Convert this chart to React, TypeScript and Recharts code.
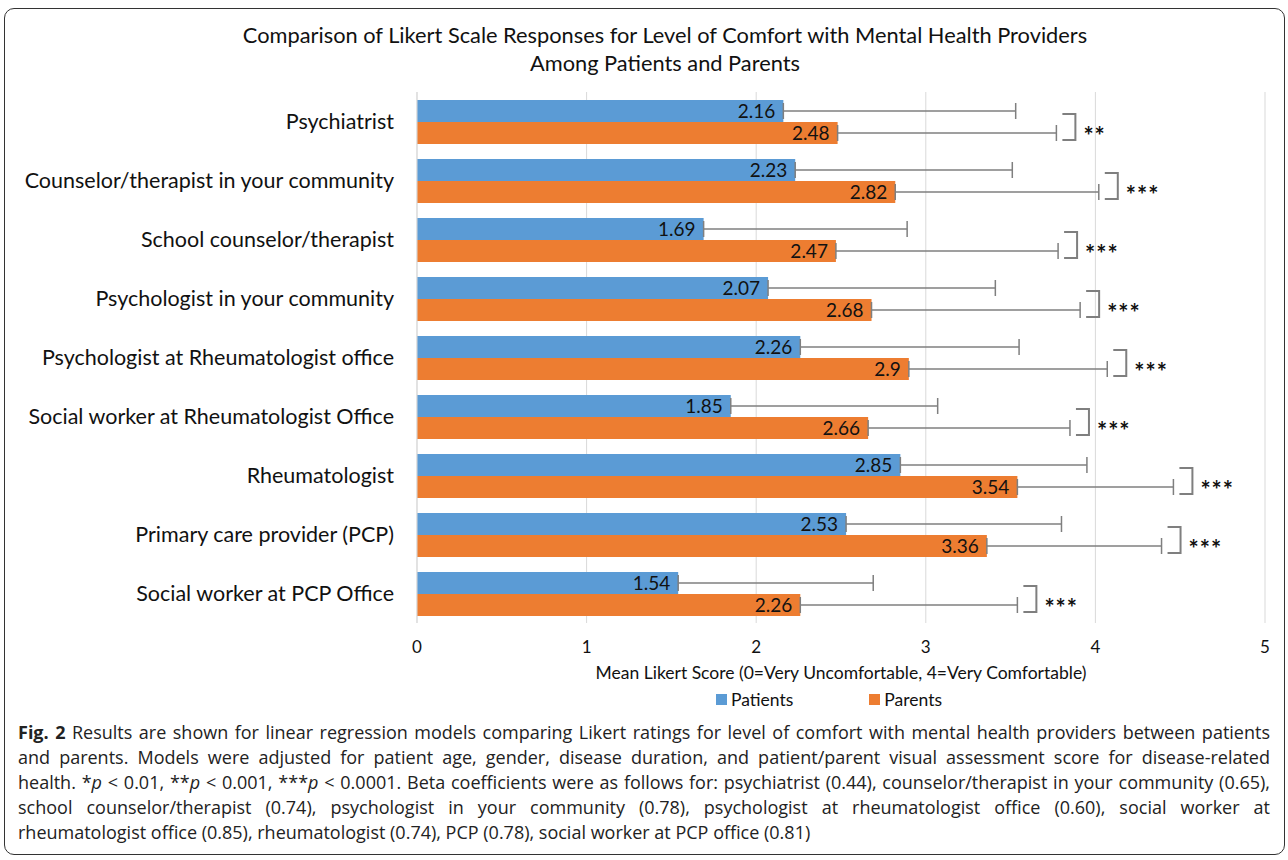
import { BarChart, Bar, XAxis, YAxis, CartesianGrid, ErrorBar, LabelList } from 'recharts';

const providers = [
  'Psychiatrist',
  'Counselor/therapist in your community',
  'School counselor/therapist',
  'Psychologist in your community',
  'Psychologist at Rheumatologist office',
  'Social worker at Rheumatologist Office',
  'Rheumatologist',
  'Primary care provider (PCP)',
  'Social worker at PCP Office',
];
const patients = [2.16, 2.23, 1.69, 2.07, 2.26, 1.85, 2.85, 2.53, 1.54];
const parents = [2.48, 2.82, 2.47, 2.68, 2.9, 2.66, 3.54, 3.36, 2.26];
// only the plus side of the error bar is shown
const patientsErr = [1.37, 1.28, 1.2, 1.34, 1.29, 1.22, 1.1, 1.27, 1.15];
const parentsErr = [1.29, 1.2, 1.31, 1.23, 1.17, 1.19, 0.92, 1.03, 1.28];
const significance = ['**', '***', '***', '***', '***', '***', '***', '***', '***'];
const xTicks = [0, 1, 2, 3, 4, 5];

const BLUE = '#5b9bd5';
const ORANGE = '#ed7d31';
const FONT = 'Lato, "Open Sans", sans-serif';

const rows = providers.map((name, i) => ({
  name,
  patients: patients[i],
  parents: parents[i],
  patientsErr: [0, patientsErr[i]],
  parentsErr: [0, parentsErr[i]],
}));

function Bracket(props: any) {
  const vb = props.viewBox || props;
  const { x, y, width, height } = vb;
  const value = Number(props.value);
  const idx = props.index ?? parents.indexOf(value);
  if (!value || idx < 0) return null;
  const perUnit = width / value;
  const bx = x + (value + parentsErr[idx]) * perUnit + 19;
  const top = y - 8;
  const bottom = y + height - 4;
  return (
    <g>
      <path
        d={`M${bx - 13},${top} H${bx} V${bottom} H${bx - 13}`}
        fill="none"
        stroke="#7f7f7f"
        strokeWidth={2}
      />
      <text
        x={bx + 8}
        y={(top + bottom) / 2 + 8}
        dominantBaseline="central"
        fontSize={24}
        fontWeight="bold"
        letterSpacing={1}
        fill="#111"
        fontFamily={FONT}
      >
        {significance[idx]}
      </text>
    </g>
  );
}

const captionLines = [
  <><b>Fig. 2</b> Results are shown for linear regression models comparing Likert ratings for level of comfort with mental health providers between patients</>,
  <>and parents. Models were adjusted for patient age, gender, disease duration, and patient/parent visual assessment score for disease-related</>,
  <>health. *<i>p</i> &lt; 0.01, **<i>p</i> &lt; 0.001, ***<i>p</i> &lt; 0.0001. Beta coefficients were as follows for: psychiatrist (0.44), counselor/therapist in your community (0.65),</>,
  <>school counselor/therapist (0.74), psychologist in your community (0.78), psychologist at rheumatologist office (0.60), social worker at</>,
  <>rheumatologist office (0.85), rheumatologist (0.74), PCP (0.78), social worker at PCP office (0.81)</>,
];

export default function App() {
  return (
    <div style={{ position: 'absolute', left: 0, top: 0, width: 1288, height: 860, background: '#fff', fontFamily: FONT, color: '#111' }}>
      <div style={{ position: 'absolute', left: 4, top: 8, width: 1281, height: 847, border: '1.5px solid #333', borderRadius: 10, boxSizing: 'border-box' }} />

      <div style={{ position: 'absolute', left: 0, top: 21, width: 1330, textAlign: 'center', fontSize: 21.8, lineHeight: '28px' }}>
        <div>Comparison of Likert Scale Responses for Level of Comfort with Mental Health Providers</div>
        <div>Among Patients and Parents</div>
      </div>

      <div style={{ position: 'absolute', left: 0, top: 0 }}>
        <BarChart
          width={1288}
          height={660}
          layout="vertical"
          data={rows}
          margin={{ top: 92, right: 23, bottom: 7, left: 0 }}
          barSize={22}
          barGap={0}
        >
          <CartesianGrid horizontal={false} stroke="#d9d9d9" />
          <XAxis
            type="number"
            domain={[0, 5]}
            ticks={xTicks}
            axisLine={false}
            tickLine={false}
            height={30}
            tickMargin={12}
            tick={{ fontSize: 17, fill: '#111', fontFamily: FONT }}
          />
          <YAxis
            type="category"
            dataKey="name"
            width={417}
            tickLine={false}
            axisLine={{ stroke: '#d9d9d9' }}
            tickMargin={17}
            tick={{ fontSize: 21.5, fill: '#111', fontFamily: FONT }}
          />
          <Bar dataKey="patients" fill={BLUE} isAnimationActive={false}>
            <ErrorBar dataKey="patientsErr" direction="x" stroke="#7f7f7f" strokeWidth={1.5} width={8} />
            <LabelList dataKey="patients" position="insideRight" offset={8} fill="#111" fontSize={19} fontFamily={FONT} />
          </Bar>
          <Bar dataKey="parents" fill={ORANGE} isAnimationActive={false}>
            <ErrorBar dataKey="parentsErr" direction="x" stroke="#7f7f7f" strokeWidth={1.5} width={8} />
            <LabelList dataKey="parents" position="insideRight" offset={8} fill="#111" fontSize={19} fontFamily={FONT} />
            <LabelList dataKey="parents" content={<Bracket />} />
          </Bar>
        </BarChart>
      </div>

      <div style={{ position: 'absolute', left: 417, top: 662, width: 848, textAlign: 'center', fontSize: 17.5 }}>
        Mean Likert Score (0=Very Uncomfortable, 4=Very Comfortable)
      </div>
      <div style={{ position: 'absolute', left: 405, top: 689, width: 848, display: 'flex', justifyContent: 'center', gap: 76, fontSize: 17.5 }}>
        <span style={{ display: 'flex', alignItems: 'center', gap: 4 }}>
          <span style={{ width: 11, height: 11, background: BLUE, display: 'inline-block' }} />Patients
        </span>
        <span style={{ display: 'flex', alignItems: 'center', gap: 4 }}>
          <span style={{ width: 11, height: 11, background: ORANGE, display: 'inline-block' }} />Parents
        </span>
      </div>

      <div style={{ position: 'absolute', left: 18, top: 720, width: 1252, fontFamily: '"Liberation Sans Narrow", "Open Sans", sans-serif', fontSize: 18, lineHeight: '25px', color: '#222' }}>
        {captionLines.map((line, i) => (
          <div key={i} style={{ whiteSpace: 'nowrap', textAlign: 'justify', textAlignLast: i < 4 ? 'justify' : 'left' }}>
            {line}
          </div>
        ))}
      </div>
    </div>
  );
}
